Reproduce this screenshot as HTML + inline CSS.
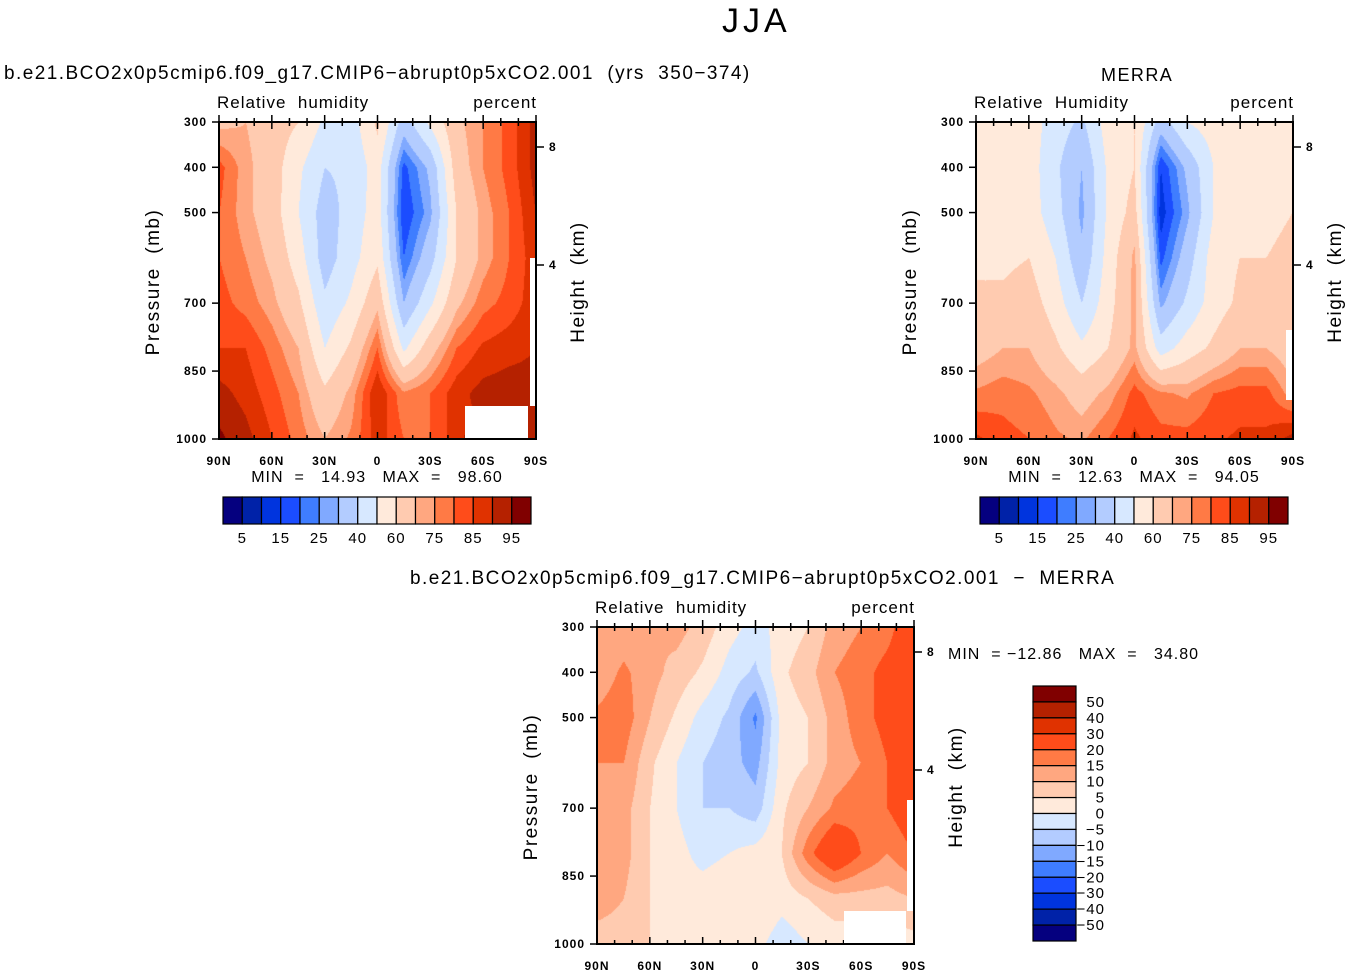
<!DOCTYPE html>
<html><head><meta charset="utf-8">
<style>
body{margin:0;background:#fff;width:1352px;height:976px;position:relative;overflow:hidden;font-family:"Liberation Sans",sans-serif;color:#000}
.t{position:absolute;white-space:pre;line-height:1;letter-spacing:1.45px}
canvas{position:absolute}
svg{position:absolute;left:0;top:0}
svg text{white-space:pre;letter-spacing:1px}
</style></head>
<body>
<div class="t" style="left:722px;top:4px;font-size:34px;letter-spacing:4px">JJA</div>
<div class="t" style="left:4px;top:64px;font-size:19px">b.e21.BCO2x0p5cmip6.f09_g17.CMIP6−abrupt0p5xCO2.001  (yrs  350−374)</div>
<div class="t" style="left:1101px;top:66px;font-size:18px">MERRA</div>
<div class="t" style="left:410px;top:569px;font-size:19px">b.e21.BCO2x0p5cmip6.f09_g17.CMIP6−abrupt0p5xCO2.001  −  MERRA</div>
<svg id="svg" width="1352" height="976"></svg>
<script>
// grid: columns 90N..90S every 15 deg; rows 300..1000 every 100 mb
const lats=[90,75,60,45,30,15,0,-15,-30,-45,-60,-75,-90];
const pres=[300,400,500,600,700,800,900,1000];
const modelRH=[
[68,70,65,60,48,45,62,35,52,68,75,82,92],
[82,72,65,52,40,42,55,18,32,65,75,82,92],
[80,72,65,50,35,44,55,15,28,60,72,80,90],
[80,75,68,55,35,46,58,20,36,60,72,80,88],
[82,78,72,62,42,52,68,30,48,68,78,82,88],
[85,85,78,70,50,62,80,48,66,80,86,88,90],
[92,88,82,75,62,72,90,76,80,88,92,93,92],
[96,92,85,78,70,76,88,80,80,88,90,92,95]];
const merraRH=[
[58,55,55,45,38,55,60,35,50,55,55,55,60],
[60,55,55,42,30,52,60,15,32,50,55,55,60],
[58,55,55,44,28,52,64,12,28,50,55,58,60],
[60,58,60,50,32,54,72,18,35,55,60,60,62],
[60,62,65,55,40,56,72,28,42,55,62,62,60],
[66,70,70,62,52,60,72,45,55,62,70,70,65],
[76,78,76,72,66,72,82,76,74,80,82,82,72],
[86,82,80,76,74,80,86,82,82,84,86,86,92]];
const diffRH=[
[10,12,10,12,8,2,-2,2,5,12,15,18,25],
[12,16,12,8,4,-2,-6,4,8,15,18,22,25],
[16,18,10,4,-2,-6,-16,2,5,12,18,22,25],
[15,15,6,0,-5,-8,-12,2,5,12,15,20,25],
[15,12,5,0,-5,-5,-8,4,10,16,18,20,25],
[15,12,5,2,-2,0,2,5,18,28,20,15,20],
[12,10,5,2,3,5,5,2,5,8,8,8,10],
[8,8,5,2,2,2,2,-3,0,2,2,2,3]];
const rhLevels=[5,10,15,20,25,30,40,50,60,70,75,80,85,90,95];
const rhLabels=["5","15","25","40","60","75","85","95"];
const diffLevels=[-50,-40,-30,-20,-15,-10,-5,0,5,10,15,20,30,40,50];
const diffLabels=["50","40","30","20","15","10","5","0","−5","−10","−15","−20","−30","−40","−50"];
const xTickLabels=["90N","60N","30N","0","30S","60S","90S"];
const yTickValues=[300,400,500,700,850,1000];
const colors=["#05007f","#0022a8","#0034de","#1b4dff","#3f7dff","#80a9ff","#b3ccff","#d7e8ff","#ffeadb","#ffcbb0","#ffa780","#ff7a45","#ff4c1a","#e03200","#b52100","#800000"];

const NS="http://www.w3.org/2000/svg";
const svg=document.getElementById('svg');
function el(tag,attrs){const e=document.createElementNS(NS,tag);for(const k in attrs)e.setAttribute(k,attrs[k]);svg.appendChild(e);return e;}
function levelIndex(v,lv){let i=0;while(i<lv.length&&v>=lv[i])i++;return i;}
function hexRGB(h){return [parseInt(h.substr(1,2),16),parseInt(h.substr(3,2),16),parseInt(h.substr(5,2),16)];}

function panel(px,py,data,levels,name){
  const W=317,H=317;
  const xs=lat=>px+(90-lat)/180*W;
  const ys=p=>py+(p-300)/700*H;
  const cv=document.createElement('canvas');
  cv.width=W;cv.height=H;cv.style.left=px+'px';cv.style.top=py+'px';
  
  
  document.body.insertBefore(cv,svg);
  const ctx=cv.getContext('2d');const img=ctx.createImageData(W,H);
  const nc=lats.length-1,nr=pres.length-1;
  const rgb=colors.map(hexRGB);
  for(let j=0;j<H;j++){
    const fy=j/(H-1)*nr;const r0=Math.min(Math.floor(fy),nr-1);const ty=fy-r0;
    for(let i=0;i<W;i++){
      const fx=i/(W-1)*nc;const c0=Math.min(Math.floor(fx),nc-1);const tx=fx-c0;
      const v=(data[r0][c0]*(1-tx)+data[r0][c0+1]*tx)*(1-ty)+(data[r0+1][c0]*(1-tx)+data[r0+1][c0+1]*tx)*ty;
      const c=rgb[levelIndex(v,levels)];const o=(j*W+i)*4;
      img.data[o]=c[0];img.data[o+1]=c[1];img.data[o+2]=c[2];img.data[o+3]=255;
    }
  }
  ctx.putImageData(img,0,0);
  const fr=el('rect',{x:px,y:py,width:W,height:H,fill:'none',stroke:'#000','stroke-width':2});
  
  
  for(let k=-90;k<=90;k+=10){
    const x=xs(-k);const major=k%30===0;const L=major?7:4;
    el('line',{x1:x,y1:py+H,x2:x,y2:py+H-L,stroke:'#000','stroke-width':1.5});
    el('line',{x1:x,y1:py,x2:x,y2:py+L,stroke:'#000','stroke-width':1.5});
    el('line',{x1:x,y1:py,x2:x,y2:py-(major?7:4),stroke:'#000','stroke-width':1.5});
  }
  xTickLabels.forEach((t,i)=>{
    const tx=el('text',{x:xs(90-i*30),y:py+H+26,'font-size':12,'font-weight':'bold','text-anchor':'middle','font-family':'Liberation Sans'});
    tx.textContent=t;
    
    
  });
  yTickValues.forEach(p=>{
    const y=ys(p);
    el('line',{x1:px-7,y1:y,x2:px,y2:y,stroke:'#000','stroke-width':1.5});
    const tx=el('text',{x:px-12,y:y+4,'font-size':12,'font-weight':'bold','text-anchor':'end','font-family':'Liberation Sans'});
    tx.textContent=p;
    
    
  });
  [[8,25],[4,143]].forEach(([h,dy])=>{
    el('line',{x1:px+W,y1:py+dy,x2:px+W+8,y2:py+dy,stroke:'#000','stroke-width':1.5});
    const tx=el('text',{x:px+W+13,y:py+dy+4,'font-size':12,'font-weight':'bold','font-family':'Liberation Sans'});
    tx.textContent=h;
    
    
  });
  const yl=el('text',{x:0,y:0,'font-size':19,'text-anchor':'middle','font-family':'Liberation Sans',style:'letter-spacing:1.5px',transform:`translate(${px-60},${py+160}) rotate(-90)`});
  yl.textContent='Pressure  (mb)';
  
  
  const yr=el('text',{x:0,y:0,'font-size':19,'text-anchor':'middle','font-family':'Liberation Sans',style:'letter-spacing:1.5px',transform:`translate(${px+W+48},${py+160}) rotate(-90)`});
  yr.textContent='Height  (km)';
  
  
  return {xs,ys};
}
function txt(x,y,s,size,name,anchor){
  const t=el('text',{x:x,y:y,'font-size':size,'font-family':'Liberation Sans','text-anchor':anchor||'start'});
  t.textContent=s;
  
  
}
function hbar(x,y,labels,name){
  const bw=308/16;
  colors.forEach((c,i)=>{
    const r=el('rect',{x:x+i*bw,y:y,width:bw,height:27,fill:c,stroke:'#000','stroke-width':1.2});
    
    
  });
  labels.forEach((l,i)=>txt(x+(1+2*i)*bw,y+46,l,15,name+'-label','middle'));
}

panel(219,122,modelRH,rhLevels,'model-panel');
el('rect',{x:465,y:406,width:63,height:32,fill:'#fff'});
el('rect',{x:530,y:258,width:5,height:148,fill:'#fff'});
txt(217,108,'Relative  humidity',17,'model-field-label');
txt(537,108,'percent',17,'model-units-label','end');
txt(377,482,'MIN  =   14.93   MAX  =   98.60',16,'model-min-max','middle');
hbar(223,497,rhLabels,'model-colorbar');

panel(976,122,merraRH,rhLevels,'merra-panel');
el('rect',{x:1286,y:330,width:6,height:70,fill:'#fff'});
txt(974,108,'Relative  Humidity',17,'merra-field-label');
txt(1294,108,'percent',17,'merra-units-label','end');
txt(1134,482,'MIN  =   12.63   MAX  =   94.05',16,'merra-min-max','middle');
hbar(980,497,rhLabels,'merra-colorbar');

panel(597,627,diffRH,diffLevels,'diff-panel');
el('rect',{x:844,y:911,width:62,height:32,fill:'#fff'});
el('rect',{x:907,y:800,width:6,height:111,fill:'#fff'});
txt(595,613,'Relative  humidity',17,'diff-field-label');
txt(915,613,'percent',17,'diff-units-label','end');
txt(948,659,'MIN  = −12.86   MAX  =   34.80',16,'diff-min-max');
const vb=255/16;
colors.slice().reverse().forEach((c,i)=>{
  const r=el('rect',{x:1033,y:686+i*vb,width:43,height:vb,fill:c,stroke:'#000','stroke-width':1.2});
  
  
});
diffLabels.forEach((l,i)=>txt(1105,686+(i+1)*vb+5,l,15,'diff-colorbar-label','end'));
</script>
</body></html>
